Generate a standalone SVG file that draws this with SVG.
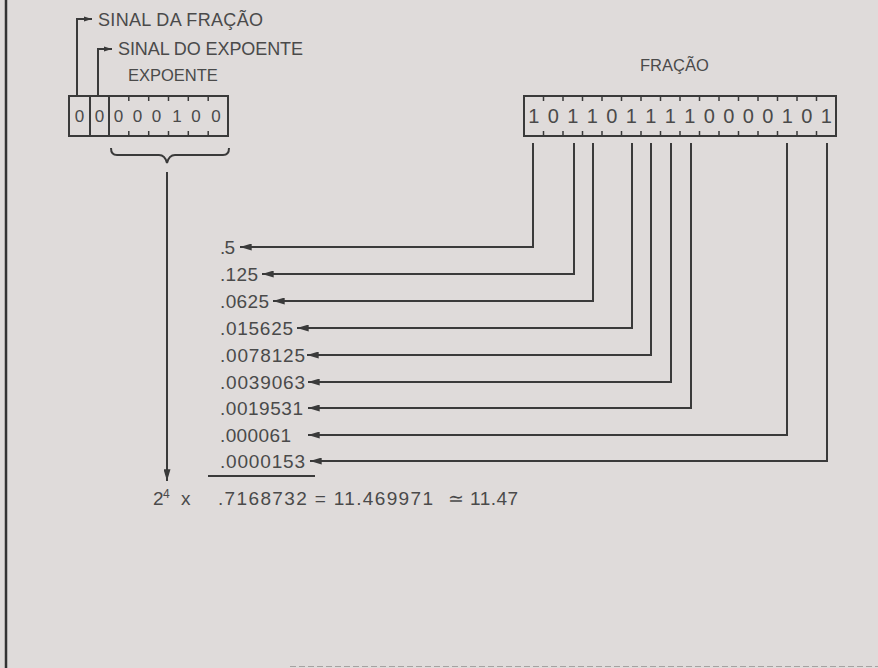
<svg xmlns="http://www.w3.org/2000/svg" width="878" height="668" viewBox="0 0 878 668">
<defs>
<style>
.t{font-family:"Liberation Sans",Arial,sans-serif;fill:#4a4a4a}
.lbl{font-size:18px}
.lbs{font-size:16.5px}
.val{font-size:19px}
.dig{font-size:20px;text-anchor:middle}
.digs{font-size:17px;text-anchor:middle}
.box{fill:none;stroke:#3a3a3a;stroke-width:2}
.tick{stroke:#3a3a3a;stroke-width:1.5}
.con{fill:none;stroke:#3a3a3a;stroke-width:2}
</style>
<marker id="ah" viewBox="0 0 10 6" refX="10" refY="3" markerUnits="userSpaceOnUse" markerWidth="12" markerHeight="7" orient="auto">
<path d="M0,0 L10,3 L0,6 z" fill="#3a3a3a"/>
</marker>
<marker id="ahs" viewBox="0 0 10 6" refX="10" refY="3" markerUnits="userSpaceOnUse" markerWidth="8" markerHeight="6" orient="auto">
<path d="M0,0 L10,3 L0,6 z" fill="#3a3a3a"/>
</marker>
</defs>
<rect width="878" height="668" fill="#dfdbda"/>
<line x1="6" y1="0" x2="6" y2="668" stroke="#333" stroke-width="2.5"/>
<line x1="290" y1="666.5" x2="878" y2="666.5" stroke="#a5a2a1" stroke-width="1" stroke-dasharray="6 3"/>

<g id="labels-top">
<text class="t lbl" x="98" y="26" textLength="165">SINAL DA FRAÇÃO</text>
<text class="t lbl" x="118" y="55" textLength="185">SINAL DO EXPOENTE</text>
<text class="t lbs" x="128" y="81">EXPOENTE</text>
<text class="t lbs" x="640" y="71">FRAÇÃO</text>
</g>

<g id="exp-box">
<rect class="box" x="69" y="96" width="159" height="40"/>
<line class="box" x1="90" y1="96" x2="90" y2="136"/>
<line class="box" x1="109" y1="96" x2="109" y2="136"/>
<g class="tick">
<line x1="128.8" y1="96" x2="128.8" y2="101"/><line x1="128.8" y1="131" x2="128.8" y2="136"/>
<line x1="148.7" y1="96" x2="148.7" y2="101"/><line x1="148.7" y1="131" x2="148.7" y2="136"/>
<line x1="168.5" y1="96" x2="168.5" y2="101"/><line x1="168.5" y1="131" x2="168.5" y2="136"/>
<line x1="188.3" y1="96" x2="188.3" y2="101"/><line x1="188.3" y1="131" x2="188.3" y2="136"/>
<line x1="208.2" y1="96" x2="208.2" y2="101"/><line x1="208.2" y1="131" x2="208.2" y2="136"/>
</g>
<g class="t digs">
<text x="79.5" y="122">0</text><text x="99.5" y="122">0</text>
<text x="118.5" y="122">0</text><text x="137.5" y="122">0</text><text x="156.5" y="122">0</text>
<text x="177" y="122">1</text><text x="196" y="122">0</text><text x="216" y="122">0</text>
</g>
</g>

<g id="frac-box">
<rect class="box" x="524" y="96" width="312" height="40"/>
<g class="tick">
<line x1="543.5" y1="96" x2="543.5" y2="101"/><line x1="543.5" y1="131" x2="543.5" y2="136"/>
<line x1="563" y1="96" x2="563" y2="101"/><line x1="563" y1="131" x2="563" y2="136"/>
<line x1="582.5" y1="96" x2="582.5" y2="101"/><line x1="582.5" y1="131" x2="582.5" y2="136"/>
<line x1="602" y1="96" x2="602" y2="101"/><line x1="602" y1="131" x2="602" y2="136"/>
<line x1="621.5" y1="96" x2="621.5" y2="101"/><line x1="621.5" y1="131" x2="621.5" y2="136"/>
<line x1="641" y1="96" x2="641" y2="101"/><line x1="641" y1="131" x2="641" y2="136"/>
<line x1="660.5" y1="96" x2="660.5" y2="101"/><line x1="660.5" y1="131" x2="660.5" y2="136"/>
<line x1="680" y1="96" x2="680" y2="101"/><line x1="680" y1="131" x2="680" y2="136"/>
<line x1="699.5" y1="96" x2="699.5" y2="101"/><line x1="699.5" y1="131" x2="699.5" y2="136"/>
<line x1="719" y1="96" x2="719" y2="101"/><line x1="719" y1="131" x2="719" y2="136"/>
<line x1="738.5" y1="96" x2="738.5" y2="101"/><line x1="738.5" y1="131" x2="738.5" y2="136"/>
<line x1="758" y1="96" x2="758" y2="101"/><line x1="758" y1="131" x2="758" y2="136"/>
<line x1="777.5" y1="96" x2="777.5" y2="101"/><line x1="777.5" y1="131" x2="777.5" y2="136"/>
<line x1="797" y1="96" x2="797" y2="101"/><line x1="797" y1="131" x2="797" y2="136"/>
<line x1="816.5" y1="96" x2="816.5" y2="101"/><line x1="816.5" y1="131" x2="816.5" y2="136"/>
</g>
<g class="t dig">
<text x="533.75" y="123">1</text><text x="553.25" y="123">0</text><text x="572.75" y="123">1</text><text x="592.25" y="123">1</text>
<text x="611.75" y="123">0</text><text x="631.25" y="123">1</text><text x="650.75" y="123">1</text><text x="670.25" y="123">1</text>
<text x="689.75" y="123">1</text><text x="709.25" y="123">0</text><text x="728.75" y="123">0</text><text x="748.25" y="123">0</text>
<text x="767.75" y="123">0</text><text x="787.25" y="123">1</text><text x="806.75" y="123">0</text><text x="826.25" y="123">1</text>
</g>
</g>

<g id="values" class="t val">
<text x="220" y="254" textLength="15">.5</text>
<text x="220" y="281" textLength="38">.125</text>
<text x="220" y="308" textLength="49">.0625</text>
<text x="220" y="335" textLength="73">.015625</text>
<text x="220" y="362" textLength="85">.0078125</text>
<text x="220" y="389" textLength="85">.0039063</text>
<text x="220" y="415" textLength="83">.0019531</text>
<text x="220" y="442" textLength="71">.000061</text>
<text x="220" y="468" textLength="85">.0000153</text>
</g>

<g id="result" class="t val">
<text x="153" y="505">2</text>
<text x="163" y="498" style="font-size:12px">4</text>
<text x="181" y="505">x</text>
<text x="218" y="505" textLength="215">.7168732 = 11.469971</text>
<text x="448" y="505">≃</text>
<text x="470" y="505" textLength="48">11.47</text>
</g>

<g id="connectors">
<path class="con" d="M77,96 V19 H92" marker-end="url(#ahs)"/>
<path class="con" d="M98,96 V49 H112" marker-end="url(#ahs)"/>
<path class="con" d="M111,148 Q111,155 117,155 H159 Q165,155 167,163 Q169,155 175,155 H223 Q229,155 229,148" stroke-width="1.8"/>
<path class="con" d="M167,172 V481" marker-end="url(#ah)"/>
<path class="con" d="M533,143 V247 H240" marker-end="url(#ah)"/>
<path class="con" d="M574,143 V274 H262" marker-end="url(#ah)"/>
<path class="con" d="M593,143 V301 H273" marker-end="url(#ah)"/>
<path class="con" d="M632,143 V328 H297" marker-end="url(#ah)"/>
<path class="con" d="M651,143 V355 H307" marker-end="url(#ah)"/>
<path class="con" d="M671,143 V382 H308" marker-end="url(#ah)"/>
<path class="con" d="M691,143 V408 H308" marker-end="url(#ah)"/>
<path class="con" d="M787,143 V435 H308" marker-end="url(#ah)"/>
<path class="con" d="M827,143 V461 H310" marker-end="url(#ah)"/>
<line class="con" x1="208" y1="476" x2="315" y2="476"/>
</g>
</svg>
